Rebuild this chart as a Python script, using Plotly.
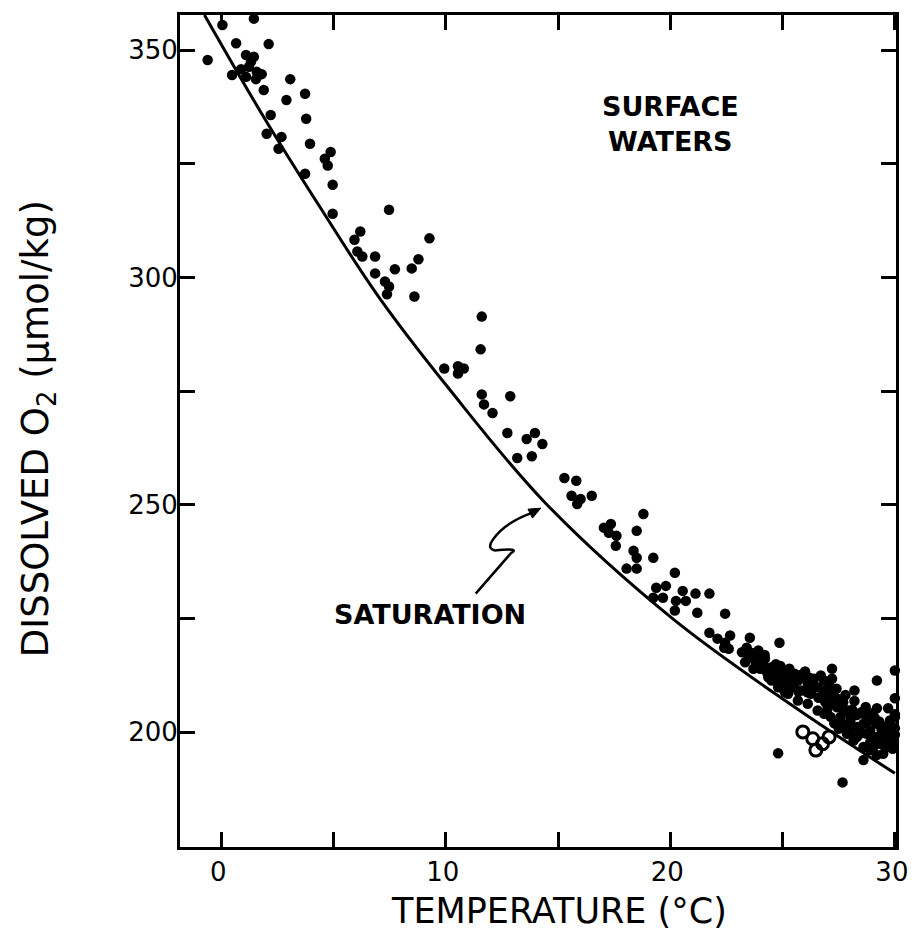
import plotly.graph_objects as go

# ---- data ----
temp_c = [
    1.45, 0.05, 0.66, 2.11, -0.61, 1.10, 1.45, 0.48, 0.88, 1.23, 1.58, 1.80, 1.10, 1.54, 1.32,
    3.07, 1.89, 3.73, 2.90, 2.20, 3.78, 2.02, 2.68, 2.55, 3.95, 4.87, 4.61, 4.74, 3.73, 4.96,
    7.47, 6.19, 5.93, 6.06, 6.28, 4.96, 6.85, 6.85, 7.73, 8.48, 8.78, 9.27, 7.29, 7.47, 7.38,
    8.60, 11.60, 11.55, 9.93, 10.54, 10.80, 10.54, 11.60, 11.70, 12.08, 12.87, 12.74, 13.60,
    13.97, 13.18, 13.83, 14.30,
    15.28, 15.81, 15.60, 15.85, 16.50, 16.00, 18.80, 17.04, 17.35, 17.26, 17.60, 17.57, 18.50,
    18.36, 18.50, 18.05, 18.50, 19.24, 20.20, 19.37, 19.80, 19.24, 19.67, 20.55, 20.25, 20.69,
    21.12, 21.74, 20.20, 21.20, 22.44,
    21.74, 22.10, 22.44, 22.66, 22.40, 22.60, 23.54, 24.86,
    23.19, 23.48, 23.77, 23.33, 23.99, 24.14, 23.70, 24.51, 24.65, 24.36, 24.80, 25.09, 25.38,
    25.38, 25.68, 25.82, 26.12, 26.26, 26.56, 26.85, 26.70, 27.00, 27.14, 27.43, 27.73, 27.58,
    28.02, 28.31, 28.60, 28.75, 28.90, 29.19, 29.34, 29.04, 29.63, 29.78, 29.48, 28.60, 28.16,
    27.87, 27.14, 26.85, 26.56, 26.12, 25.68, 25.24, 24.80, 24.51, 24.95, 25.53, 25.97, 26.34,
    26.85, 27.29, 29.78, 29.92, 29.19, 28.31, 28.90, 23.92, 24.21, 28.60, 29.19,
    23.60, 24.00, 24.30, 24.70, 25.00, 25.20, 25.50, 25.80, 26.20, 26.40, 26.60, 26.90, 27.10,
    27.30, 27.50, 27.70, 27.90, 28.10, 28.30, 28.50, 28.50, 28.80, 29.00, 29.10, 29.40, 29.60,
    29.90, 30.00, 27.30, 27.90,
    23.40, 23.90, 24.20, 24.60, 24.90, 25.10, 25.30, 25.70, 26.00, 26.10, 26.40, 26.70, 26.80,
    27.00, 27.20, 27.40, 27.60, 27.80, 28.00, 28.20, 28.40, 28.70, 28.90, 29.00, 29.30, 29.50,
    29.70, 29.90, 30.00, 28.00, 27.50,
    27.20, 29.20, 30.00, 28.20, 30.00, 28.70, 29.20, 29.70, 24.80, 27.67, 30.20, 30.00, 30.00,
]
o2_umol = [
    356.9, 355.5, 351.5, 351.3, 347.8, 348.9, 348.5, 344.5, 345.8, 346.3, 345.2, 344.7, 344.1, 343.6, 347.4,
    343.6, 341.2, 340.4, 339.0, 335.7, 334.9, 331.6, 330.9, 328.3, 329.4, 327.6, 326.1, 324.6, 322.8, 320.4,
    314.9, 310.1, 308.3, 305.7, 304.6, 314.0, 304.6, 300.9, 301.8, 302.0, 304.0, 308.6, 299.1, 298.0, 296.3,
    295.8, 291.4, 284.2, 280.0, 280.5, 280.0, 278.9, 274.3, 272.1, 270.2, 273.9, 265.8, 264.5,
    265.8, 260.3, 260.7, 263.4,
    255.9, 255.3, 252.0, 250.2, 252.0, 251.3, 248.0, 245.0, 245.8, 243.9, 243.2, 241.0, 244.3,
    239.9, 238.4, 236.0, 236.0, 238.4, 235.1, 231.8, 232.2, 229.6, 229.6, 231.1, 228.9, 228.9,
    230.5, 230.5, 226.8, 226.3, 226.1,
    221.9, 220.6, 219.7, 221.3, 218.6, 218.4, 220.8, 219.7,
    217.6, 216.9, 215.8, 215.4, 216.5, 214.7, 214.0, 214.3, 212.9, 212.1, 211.4, 212.1, 211.4,
    209.9, 211.4, 209.2, 210.7, 208.5, 209.9, 211.4, 207.7, 207.0, 208.5, 205.5, 204.8, 203.4,
    202.6, 201.2, 201.9, 199.7, 200.4, 199.0, 197.5, 196.8, 198.2, 199.7, 195.3, 196.8, 198.2,
    199.7, 203.4, 204.1, 204.8, 206.3, 207.0, 208.5, 209.9, 211.4, 213.6, 212.9, 212.1, 211.4,
    209.2, 206.3, 202.6, 201.2, 201.9, 199.0, 196.1, 218.0, 216.2, 193.9, 195.0,
    217.5, 214.0, 213.2, 215.0, 210.6, 213.0, 210.3, 212.6, 212.0, 209.8, 207.6, 206.6, 210.0,
    208.0, 207.3, 206.6, 204.8, 205.0, 203.8, 204.4, 199.8, 202.4, 198.3, 203.2, 200.8, 196.8,
    198.0, 199.5, 202.0, 201.0,
    218.6, 216.0, 217.0, 211.8, 214.6, 208.8, 214.0, 209.0, 213.4, 208.8, 211.8, 212.5, 208.2,
    205.2, 211.8, 209.6, 202.2, 208.2, 203.8, 206.9, 201.0, 205.6, 197.8, 204.2, 202.4, 199.4,
    201.6, 196.4, 204.0, 200.2, 200.8,
    214.0, 211.4, 213.6, 209.2, 207.5, 203.7, 205.3, 205.3, 195.4, 189.0, 196.1, 203.3, 200.9,
]
hollow_temp = [25.90, 26.34, 26.78, 27.07, 26.48]
hollow_o2 = [200.1, 198.6, 197.5, 199.0, 196.1]

sat_temp = [-0.75, 1.8, 4.3, 7.0, 10.1, 14.4, 20.1, 25.4, 30.0]
sat_o2 = [357.7, 336.0, 316.2, 295.8, 275.8, 250.6, 225.0, 206.0, 191.0]

fig = go.Figure()
fig.add_trace(go.Scatter(x=sat_temp, y=sat_o2, mode="lines",
                         line=dict(color="black", width=3, shape="spline", smoothing=1.0),
                         hoverinfo="skip", showlegend=False))
fig.add_trace(go.Scatter(x=temp_c, y=o2_umol, mode="markers",
                         marker=dict(color="black", size=10.5, line=dict(width=0)),
                         cliponaxis=False, showlegend=False))
fig.add_trace(go.Scatter(x=hollow_temp, y=hollow_o2, mode="markers",
                         marker=dict(symbol="circle-open", color="black", size=12,
                                     line=dict(width=3, color="black")),
                         showlegend=False))

axis_common = dict(showline=True, linecolor="black", linewidth=3, mirror="ticks",
                   ticks="inside", ticklen=15, tickwidth=3, tickcolor="black",
                   showgrid=False, zeroline=False, ticklabeloverflow="allow",
                   tickfont=dict(family="DejaVu Sans", size=26, color="black"))

fig.update_xaxes(range=[-1.84, 30.05], tick0=0, dtick=10,
                 minor=dict(ticks="inside", ticklen=15, tickwidth=3, tickcolor="black",
                            dtick=5, tick0=0, showgrid=False),
                 ticklabelstandoff=0, ticklabelshift=-3, **axis_common)
fig.update_yaxes(range=[174.8, 357.7], tick0=200, dtick=50,
                 minor=dict(ticks="inside", ticklen=15, tickwidth=3, tickcolor="black",
                            dtick=25, tick0=200, showgrid=False),
                 ticklabelstandoff=-6, **axis_common)

# S-shaped pointer from the label to the curve, with a filled arrowhead
fig.add_shape(type="path", xref="x", yref="y",
              path="M 11.33,230.5 L 12.9,239.4 Q 13.35,240.6 12.2,240.0 Q 11.8,240.4 12.1,242.4 Q 12.6,246.0 13.8,248.2",
              line=dict(color="black", width=2.5))
fig.add_shape(type="path", xref="x", yref="y",
              path="M 14.23,249.3 L 13.86,247.1 L 13.66,249.06 Z",
              line=dict(color="black", width=1), fillcolor="black")

fig.add_annotation(x=9.31, y=225.9, xref="x", yref="y", text="SATURATION",
                   showarrow=False, font=dict(family="DejaVu Sans", size=27, color="black", weight="bold"))
fig.add_annotation(x=20.0, y=333.8, xref="x", yref="y", text="SURFACE<br>WATERS",
                   showarrow=False, align="center",
                   font=dict(family="DejaVu Sans", size=27, color="black", weight="bold"))

fig.add_annotation(x=0.5296, y=-0.0767, xref="paper", yref="paper",
                   text="TEMPERATURE (°C)", showarrow=False, yanchor="middle",
                   font=dict(family="DejaVu Sans", size=35, color="black"))
fig.add_annotation(x=-0.198, y=0.5024, xref="paper", yref="paper",
                   text="DISSOLVED O<sub>2</sub> (μmol/kg)", showarrow=False, textangle=-90,
                   xanchor="center", yanchor="middle",
                   font=dict(family="DejaVu Sans", size=37, color="black"))

fig.update_layout(width=920, height=930, autosize=False,
                  margin=dict(l=180, r=13, t=13, b=83),
                  plot_bgcolor="white", paper_bgcolor="white")

# remove the default page margin so the figure fills the window exactly
fig.write_html("out.html",
               config={"responsive": False, "displayModeBar": False},
               post_script="document.body.style.margin='0';document.body.style.overflow='hidden';")
